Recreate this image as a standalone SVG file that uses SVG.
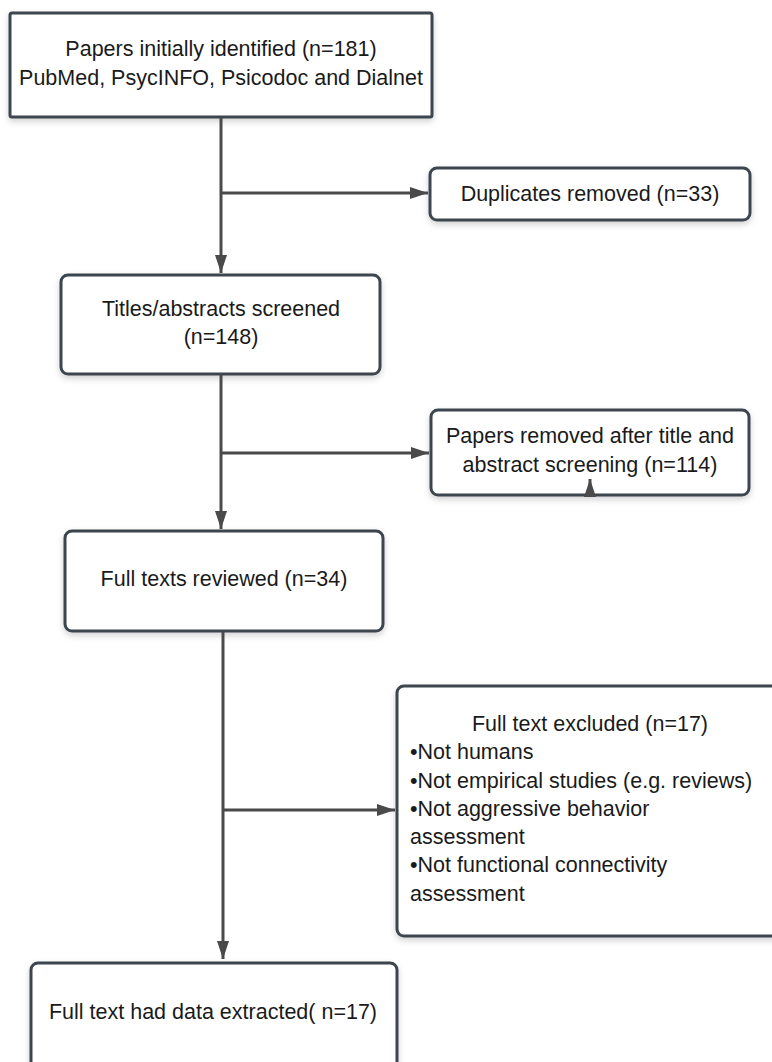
<svg xmlns="http://www.w3.org/2000/svg" width="772" height="1062" viewBox="0 0 772 1062">
<defs>
<filter id="sh" x="-10%" y="-10%" width="120%" height="130%">
<feDropShadow dx="0" dy="3" stdDeviation="3" flood-color="#000" flood-opacity="0.18"/>
</filter>
<marker id="ah" viewBox="0 0 18 12" refX="18" refY="6" markerWidth="6" markerHeight="4" markerUnits="strokeWidth" orient="auto">
<path d="M0,0 L18,6 L0,12 z" fill="#4a4a4a"/>
</marker>
<style>
.box{fill:#fff;stroke:#3c4550;stroke-width:3;filter:url(#sh)}
.t{font-family:"Liberation Sans",Arial,sans-serif;font-size:21.5px;fill:#1a1a1a}
.c{text-anchor:middle}
.ln{fill:none;stroke:#4a4a4a;stroke-width:3}
</style>
</defs>
<rect width="772" height="1062" fill="#fff"/>
<g id="n1">
<rect class="box" x="10" y="13" width="422" height="104" rx="2"/>
<text class="t c" x="221" y="56">Papers initially identified (n=181)</text>
<text class="t c" x="221" y="85">PubMed, PsycINFO, Psicodoc and Dialnet</text>
</g>
<g id="n2">
<rect class="box" x="430" y="168" width="320" height="52" rx="7"/>
<text class="t c" x="590" y="201">Duplicates removed (n=33)</text>
</g>
<g id="n3">
<rect class="box" x="61" y="275" width="319" height="99" rx="7"/>
<text class="t c" x="221" y="316">Titles/abstracts screened</text>
<text class="t c" x="221" y="344">(n=148)</text>
</g>
<g id="n4">
<rect class="box" x="431" y="410" width="318" height="85" rx="7"/>
<text class="t c" x="590" y="443">Papers removed after title and</text>
<text class="t c" x="590" y="472">abstract screening (n=114)</text>
</g>
<g id="n5">
<rect class="box" x="65" y="531" width="318" height="100" rx="7"/>
<text class="t c" x="224" y="586">Full texts reviewed (n=34)</text>
</g>
<g id="n6">
<rect class="box" x="397" y="686" width="390" height="250" rx="7"/>
<text class="t c" x="590" y="731">Full text excluded (n=17)</text>
<text class="t" x="410" y="759">•Not humans</text>
<text class="t" x="410" y="788">•Not empirical studies (e.g. reviews)</text>
<text class="t" x="410" y="816">•Not aggressive behavior</text>
<text class="t" x="410" y="844">assessment</text>
<text class="t" x="410" y="872">•Not functional connectivity</text>
<text class="t" x="410" y="901">assessment</text>
</g>
<g id="n7">
<rect class="box" x="31" y="963" width="366" height="110" rx="7"/>
<text class="t c" x="213" y="1019">Full text had data extracted( n=17)</text>
</g>
<g id="connectors">
<path class="ln" d="M221,118 V273" marker-end="url(#ah)"/>
<path class="ln" d="M221,193 H428" marker-end="url(#ah)"/>
<path class="ln" d="M221,375 V529" marker-end="url(#ah)"/>
<path class="ln" d="M221,453 H429" marker-end="url(#ah)"/>
<path class="ln" d="M590,496 V479" marker-end="url(#ah)"/>
<path class="ln" d="M223,632 V959" marker-end="url(#ah)"/>
<path class="ln" d="M223,810 H395" marker-end="url(#ah)"/>
</g>
</svg>
